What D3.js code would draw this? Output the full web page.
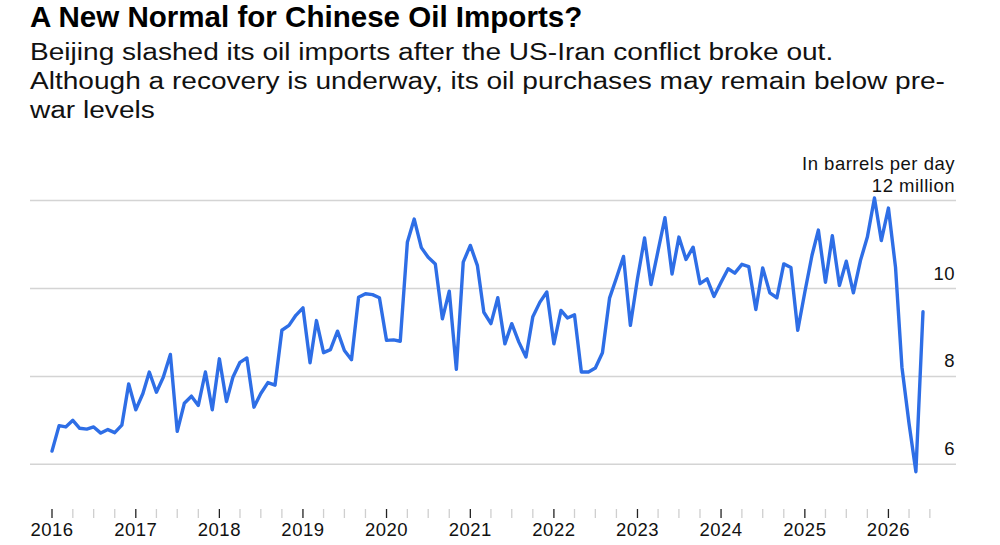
<!DOCTYPE html>
<html>
<head>
<meta charset="utf-8">
<script src="https://cdn.jsdelivr.net/npm/d3@7"></script>
<style>
  body { margin: 0; background: #fff; }
  svg { display: block; font-family: "Liberation Sans", Arial, sans-serif; }
</style>
</head>
<body>
<svg id="chart"></svg>
<script>
const width = 1000;
const height = 545;

// monthly imports, million barrels per day, Jan 2016 onward
const startMonth = new Date(2016, 0, 1);
const imports = [
	6.30, 6.88, 6.85, 7.00, 6.82, 6.80, 6.85, 6.71, 6.79, 6.72, 6.89, 7.83,
	7.24, 7.61, 8.10, 7.64, 7.98, 8.50, 6.75, 7.39, 7.55, 7.34, 8.10, 7.24,
	8.40, 7.43, 7.98, 8.32, 8.42, 7.30, 7.61, 7.86, 7.80, 9.05, 9.16, 9.39,
	9.56, 8.31, 9.27, 8.54, 8.61, 9.03, 8.59, 8.38, 9.80, 9.88, 9.86, 9.79,
	8.82, 8.83, 8.80, 11.05, 11.58, 10.93, 10.71, 10.56, 9.31, 9.94, 8.16, 10.60,
	10.98, 10.52, 9.46, 9.20, 9.79, 8.74, 9.20, 8.78, 8.44, 9.36, 9.69, 9.92,
	8.74, 9.50, 9.33, 9.40, 8.10, 8.10, 8.19, 8.54, 9.78, 10.24, 10.73, 9.16,
	10.22, 11.15, 10.09, 10.86, 11.61, 10.33, 11.17, 10.66, 10.94, 10.11, 10.22, 9.82,
	10.14, 10.45, 10.35, 10.55, 10.50, 9.52, 10.47, 9.90, 9.79, 10.56, 10.48, 9.05,
	9.92, 10.75, 11.33, 10.14, 11.20, 10.07, 10.62, 9.90, 10.64, 11.17, 12.06, 11.09,
	11.83, 10.48, 8.21, 6.93, 5.83, 9.47
];
const yTicks = [6, 8, 10, 12];
const yTickLabels = ['6', '8', '10', '12 million'];
const unitLabel = 'In barrels per day';
const years = d3.range(2016, 2027);

const title = 'A New Normal for Chinese Oil Imports?';
const subtitle = [
	'Beijing slashed its oil imports after the US-Iran conflict broke out.',
	'Although a recovery is underway, its oil purchases may remain below pre-',
	'war levels'
];

const data = imports.map((v, i) => ({ date: d3.timeMonth.offset(startMonth, i), value: v }));

const svg = d3.select('#chart')
	.attr('width', width)
	.attr('height', height);

// headline text in the original is set a bit wider than Arial, stretch it
function widen(sel, k) {
	sel.each(function () {
		const w = this.getComputedTextLength();
		d3.select(this)
			.attr('textLength', w * k)
			.attr('lengthAdjust', 'spacingAndGlyphs');
	});
}

// scales
const x = d3.scaleTime()
	.domain([startMonth, data[data.length - 1].date])
	.range([52, 923]);
const y = d3.scaleLinear()
	.domain([6, 12])
	.range([464.3, 200.6]);

// headline
svg.append('text')
	.attr('x', 30)
	.attr('y', 27)
	.attr('font-size', 30)
	.attr('font-weight', 'bold')
	.attr('fill', '#000')
	.text(title)
	.call(widen, 0.985);

svg.append('g')
	.selectAll('text')
	.data(subtitle)
	.join('text')
	.attr('x', 30)
	.attr('y', (d, i) => 60 + i * 29)
	.attr('font-size', 23)
	.attr('fill', '#111')
	.text(d => d)
	.call(widen, 1.22);

// gridlines + y labels
const grid = svg.append('g');
grid.selectAll('line')
	.data(yTicks)
	.join('line')
	.attr('x1', 30)
	.attr('x2', 956)
	.attr('y1', d => y(d))
	.attr('y2', d => y(d))
	.attr('stroke', '#d4d4d4')
	.attr('stroke-width', 1.5);
grid.selectAll('text')
	.data(yTicks)
	.join('text')
	.attr('x', 955)
	.attr('y', d => y(d) - 9)
	.attr('text-anchor', 'end')
	.attr('font-size', 18.5)
	.attr('letter-spacing', 0.5)
	.attr('fill', '#111')
	.text((d, i) => yTickLabels[i]);
svg.append('text')
	.attr('x', 955)
	.attr('y', y(12) - 31)
	.attr('text-anchor', 'end')
	.attr('font-size', 18.5)
	.attr('letter-spacing', 0.5)
	.attr('fill', '#111')
	.text(unitLabel);

// x axis: quarterly minor ticks, yearly labels
const quarters = d3.timeMonth.every(3).range(startMonth, new Date(2026, 7, 1));
const xAxis = svg.append('g');
xAxis.selectAll('line')
	.data(quarters)
	.join('line')
	.attr('x1', d => x(d))
	.attr('x2', d => x(d))
	.attr('y1', 509)
	.attr('y2', 518)
	.attr('stroke', d => d.getMonth() === 0 ? '#222' : '#cfcfcf')
	.attr('stroke-width', 1.3);
xAxis.selectAll('text')
	.data(years)
	.join('text')
	.attr('x', d => x(new Date(d, 0, 1)))
	.attr('y', 536)
	.attr('text-anchor', 'middle')
	.attr('font-size', 18.5)
	.attr('letter-spacing', 0.5)
	.attr('fill', '#111')
	.text(d => d);

// the line
const line = d3.line()
	.x(d => x(d.date))
	.y(d => y(d.value));

svg.append('path')
	.datum(data)
	.attr('fill', 'none')
	.attr('stroke', '#2e6ee6')
	.attr('stroke-width', 3.4)
	.attr('stroke-linejoin', 'round')
	.attr('stroke-linecap', 'round')
	.attr('d', line);
</script>
</body>
</html>
